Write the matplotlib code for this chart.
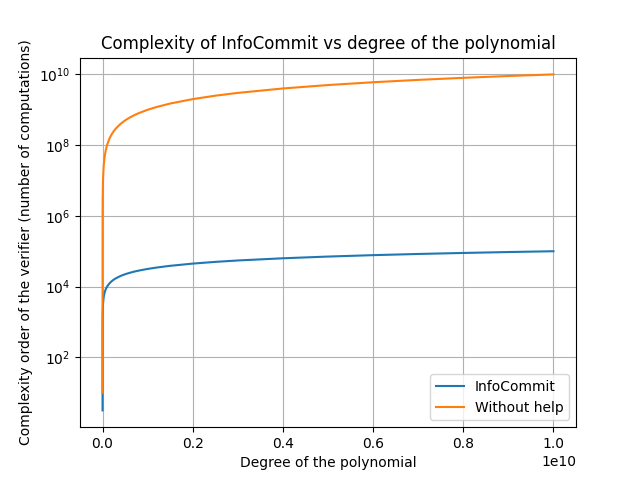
import matplotlib
matplotlib.use("Agg")
import matplotlib.pyplot as plt

# Degree of the polynomial (x values)
degrees = [10, 1e2, 1e3, 1e4, 1e5, 1e6, 3e6, 1e7, 2e7, 3e7, 5e7, 7e7, 1e8,
           1.5e8, 2e8, 2.5e8, 3e8, 4e8, 5e8, 6e8, 7e8, 8e8, 1e9, 1.2e9, 1.5e9,
           2e9, 2.5e9, 3e9, 4e9, 5e9, 6e9, 7e9, 8e9, 9e9, 1e10]

# Verifier complexity with InfoCommit
infocommit = [3.16, 10, 31.6, 100, 316, 1000, 1732, 3162, 4472, 5477, 7071,
              8367, 1e4, 1.22e4, 1.41e4, 1.58e4, 1.73e4, 2.0e4, 2.24e4, 2.45e4,
              2.65e4, 2.83e4, 3.16e4, 3.46e4, 3.87e4, 4.47e4, 5.0e4, 5.48e4,
              6.32e4, 7.07e4, 7.75e4, 8.37e4, 8.94e4, 9.49e4, 1e5]

# Verifier complexity without help
without_help = [10, 1e2, 1e3, 1e4, 1e5, 1e6, 3e6, 1e7, 2e7, 3e7, 5e7, 7e7, 1e8,
                1.5e8, 2e8, 2.5e8, 3e8, 4e8, 5e8, 6e8, 7e8, 8e8, 1e9, 1.2e9,
                1.5e9, 2e9, 2.5e9, 3e9, 4e9, 5e9, 6e9, 7e9, 8e9, 9e9, 1e10]

fig, ax = plt.subplots(figsize=(6.4, 4.8), dpi=100)
ax.plot(degrees, infocommit, label="InfoCommit")
ax.plot(degrees, without_help, label="Without help")
ax.set_yscale("log")
ax.set_title("Complexity of InfoCommit vs degree of the polynomial")
ax.set_xlabel("Degree of the polynomial")
ax.set_ylabel("Complexity order of the verifier (number of computations)")
ax.grid(True)
ax.legend(loc="lower right")

plt.savefig("out.png")
plt.close()
